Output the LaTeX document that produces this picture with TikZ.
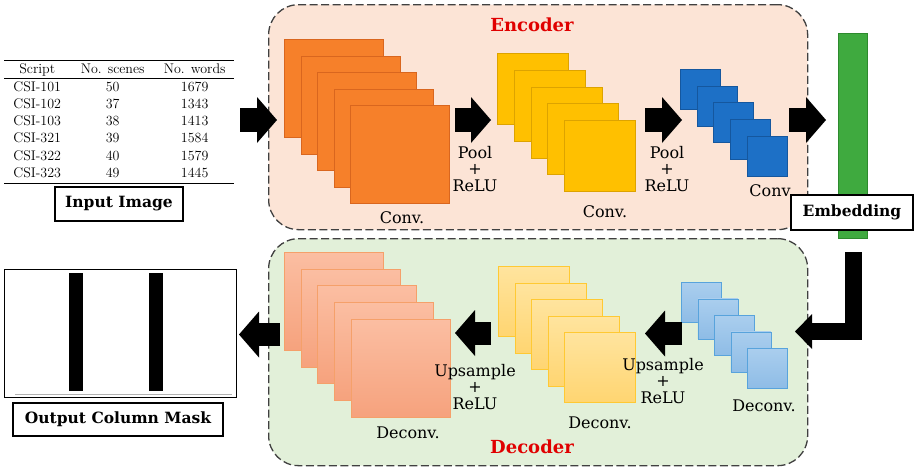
\documentclass[tikz,border=0pt]{standalone}
\usepackage{fontspec}
\usepackage{array}
\usepackage{booktabs}
\newfontfamily\labelfont{DejaVu Serif}
\usetikzlibrary{arrows.meta}

\definecolor{encfill}{HTML}{FCE4D6}
\definecolor{decfill}{HTML}{E2F0D9}
\definecolor{frameline}{HTML}{404040}
\definecolor{titlered}{HTML}{E00000}
\definecolor{orangefill}{HTML}{F6802A}
\definecolor{orangeline}{HTML}{D9661E}
\definecolor{goldfill}{HTML}{FFC000}
\definecolor{goldline}{HTML}{DDA300}
\definecolor{bluefill}{HTML}{1D70C6}
\definecolor{blueline}{HTML}{15579E}
\definecolor{greenfill}{HTML}{3FAA3F}
\definecolor{greenline}{HTML}{2D8A2D}
\definecolor{salmontop}{HTML}{FBBEA2}
\definecolor{salmonbot}{HTML}{F6A27D}
\definecolor{salmonline}{HTML}{F5A06A}
\definecolor{ltgoldtop}{HTML}{FFE49E}
\definecolor{ltgoldbot}{HTML}{FFD571}
\definecolor{ltgoldline}{HTML}{FFC933}
\definecolor{ltbluetop}{HTML}{AACEEE}
\definecolor{ltbluebot}{HTML}{8EBCE6}
\definecolor{ltblueline}{HTML}{58A3DC}

\tikzset{
  stagebox/.style={draw=frameline, dash pattern=on 8pt off 3.5pt, line width=1.3pt,
    rounded corners=30pt, anchor=north west, inner sep=0pt},
  fmap/.style={draw, line width=0.9pt, anchor=north west, inner sep=0pt},
  lbl/.style={font=\labelfont\fontsize{16}{16.5}\selectfont, align=center, inner sep=0pt},
  titlelbl/.style={font=\labelfont\bfseries\fontsize{18}{20}\selectfont, text=titlered, inner sep=0pt},
  namebox/.style={draw=black, line width=1.2pt, fill=white, inner sep=0pt,
    font=\labelfont\bfseries\fontsize{15.5}{17}\selectfont},
  blockarrow/.style={draw=black, line width=24pt,
    -{Triangle[length=20pt,width=46pt,line width=0pt]}},
  bendarrow/.style={draw=black, line width=17pt, line join=miter,
    -{Triangle[length=17pt,width=35pt,line width=0pt]}},
  maskbar/.style={fill=black, inner sep=0pt, minimum width=14pt, minimum height=118pt}
}

\begin{document}
\begin{tikzpicture}[x=1pt,y=-1pt]
\useasboundingbox (0,0) rectangle (914,469);

% ---------- input table ----------
\node[anchor=north west, inner sep=0pt] (table) at (4,60) {%
  \fontsize{14}{17.3}\selectfont
  \setlength{\tabcolsep}{0pt}%
  \setlength{\aboverulesep}{0pt}\setlength{\belowrulesep}{0pt}%
  \setlength{\heavyrulewidth}{0.9pt}\setlength{\lightrulewidth}{0.5pt}%
  \begin{tabular}{>{\centering\arraybackslash}p{66pt}>{\centering\arraybackslash}p{85pt}>{\centering\arraybackslash}p{79pt}}
  \toprule
  Script & No. scenes & No. words\\
  \midrule
  CSI-101 & 50 & 1679\\
  CSI-102 & 37 & 1343\\
  CSI-103 & 38 & 1413\\
  CSI-321 & 39 & 1584\\
  CSI-322 & 40 & 1579\\
  CSI-323 & 49 & 1445\\
  \bottomrule
  \end{tabular}};
\node[namebox, minimum width=128pt, minimum height=34pt] (inlbl) at (119,204) {Input Image};

% ---------- encoder / decoder frames ----------
\node[stagebox, fill=encfill, minimum width=539pt, minimum height=225pt] (enc) at (268,4) {};
\node[stagebox, fill=decfill, minimum width=539pt, minimum height=227pt] (dec) at (268,238) {};
\node[titlelbl] (enctitle) at (532,25) {Encoder};
\node[titlelbl] (dectitle) at (532,447) {Decoder};

% ---------- encoder feature maps ----------
\foreach \i in {0,...,4}
  \node[fmap, draw=orangeline, fill=orangefill, minimum width=99pt, minimum height=98pt]
    (co\i) at ({284+16.6*\i},{39+16.6*\i}) {};
\foreach \i in {0,...,4}
  \node[fmap, draw=goldline, fill=goldfill, minimum width=71pt, minimum height=71pt]
    (cy\i) at ({497+16.8*\i},{53+16.8*\i}) {};
\foreach \i in {0,...,4}
  \node[fmap, draw=blueline, fill=bluefill, minimum width=40pt, minimum height=40pt]
    (cb\i) at ({680+16.7*\i},{69+16.7*\i}) {};

\node[lbl] (conv1) at (402,218) {Conv.};
\node[lbl] (pool1) at (475,169) {Pool\\+\\ReLU};
\node[lbl] (conv2) at (605,212) {Conv.};
\node[lbl] (pool2) at (667,169) {Pool\\+\\ReLU};
\node[lbl] (conv3) at (770,191) {Conv};

% ---------- embedding ----------
\node[fill=greenfill, draw=greenline, line width=0.9pt, anchor=north west, inner sep=0pt,
      minimum width=29pt, minimum height=205pt] (emb) at (838,33) {};
\node[namebox, minimum width=122pt, minimum height=35pt] (emblbl) at (852,212.5) {Embedding};

% ---------- decoder feature maps ----------
\foreach \i in {0,...,4}
  \node[fmap, draw=salmonline, top color=salmontop, bottom color=salmonbot,
        minimum width=99pt, minimum height=98pt]
    (ds\i) at ({284+16.7*\i},{252+16.7*\i}) {};
\foreach \i in {0,...,4}
  \node[fmap, draw=ltgoldline, top color=ltgoldtop, bottom color=ltgoldbot,
        minimum width=71pt, minimum height=70pt]
    (dy\i) at ({498+16.6*\i},{266+16.6*\i}) {};
\foreach \i in {0,...,4}
  \node[fmap, draw=ltblueline, top color=ltbluetop, bottom color=ltbluebot,
        minimum width=40pt, minimum height=40pt]
    (db\i) at ({681+16.5*\i},{282+16.5*\i}) {};

\node[lbl] (deconv1) at (408,433) {Deconv.};
\node[lbl] (up1) at (475,387) {Upsample\\+\\ReLU};
\node[lbl] (deconv2) at (600,423) {Deconv.};
\node[lbl] (up2) at (663,381) {Upsample\\+\\ReLU};
\node[lbl] (deconv3) at (764,406) {Deconv.};

% ---------- output mask ----------
\node[draw=black, line width=0.8pt, anchor=north west, inner sep=0pt,
      minimum width=232pt, minimum height=128pt] (mask) at (4,269) {};
\draw[gray!60, line width=0.8pt] (15,394) -- (232,394);
\node[maskbar] (bar1) at (76,332) {};
\node[maskbar] (bar2) at (156,332) {};
\node[namebox, minimum width=210pt, minimum height=33pt] (outlbl) at (118,419.5) {Output Column Mask};

% ---------- block arrows ----------
\coordinate (a1s) at (240,120);  \coordinate (a1e) at (277,120);
\coordinate (a2s) at (455,120);  \coordinate (a2e) at (491,120);
\coordinate (a3s) at (645,120);  \coordinate (a3e) at (682,120);
\coordinate (a4s) at (789,120);  \coordinate (a4e) at (826,120);
\coordinate (bs)  at (853.5,252); \coordinate (be) at (795,331.5);
\coordinate (a5s) at (682,333.5); \coordinate (a5e) at (645,333.5);
\coordinate (a6s) at (491,333);  \coordinate (a6e) at (455,333);
\coordinate (a7s) at (280,334.5); \coordinate (a7e) at (239,334.5);

\draw[blockarrow] (a1s) -- (a1e);
\draw[blockarrow] (a2s) -- (a2e);
\draw[blockarrow] (a3s) -- (a3e);
\draw[blockarrow] (a4s) -- (a4e);
\draw[bendarrow] (bs) |- (be);
\draw[blockarrow, line width=23pt] (a5s) -- (a5e);
\draw[blockarrow, line width=23pt] (a6s) -- (a6e);
\draw[blockarrow, line width=23pt] (a7s) -- (a7e);
\end{tikzpicture}
\end{document}
